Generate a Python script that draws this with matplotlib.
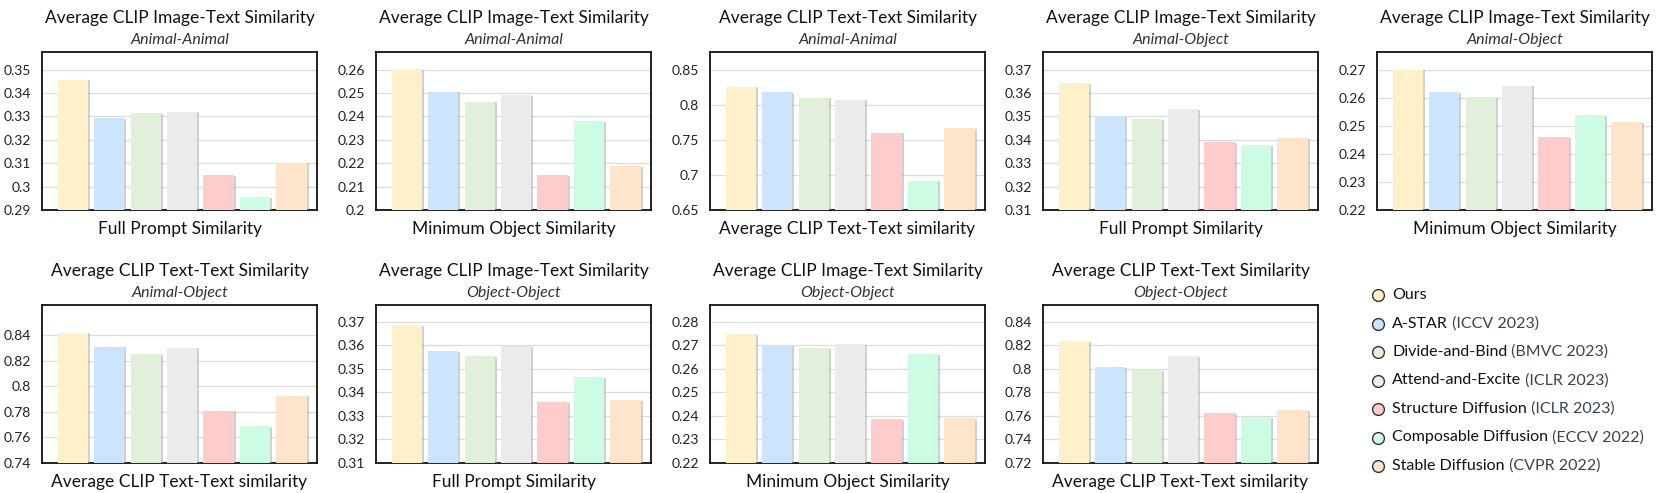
import matplotlib
matplotlib.use("Agg")
import matplotlib.pyplot as plt
import matplotlib.patheffects as pe

plt.rcParams['font.family'] = ['Lato', 'DejaVu Sans']

methods = ["Ours", "A-STAR", "Divide-and-Bind", "Attend-and-Excite",
           "Structure Diffusion", "Composable Diffusion", "Stable Diffusion"]
venues = ["", "(ICCV 2023)", "(BMVC 2023)", "(ICLR 2023)",
          "(ICLR 2023)", "(ECCV 2022)", "(CVPR 2022)"]
colors = ["#FFF0CC", "#CCE4FC", "#E2EFDA", "#EBEBEB", "#FFCCCC", "#CCFCE4", "#FFE4CC"]

titles = ["Average CLIP Image-Text Similarity", "Average CLIP Image-Text Similarity",
          "Average CLIP Text-Text Similarity", "Average CLIP Image-Text Similarity",
          "Average CLIP Image-Text Similarity", "Average CLIP Text-Text Similarity",
          "Average CLIP Image-Text Similarity", "Average CLIP Image-Text Similarity",
          "Average CLIP Text-Text Similarity"]
subtitles = ["Animal-Animal", "Animal-Animal", "Animal-Animal", "Animal-Object",
             "Animal-Object", "Animal-Object", "Object-Object", "Object-Object",
             "Object-Object"]
xlabels = ["Full Prompt Similarity", "Minimum Object Similarity",
           "Average CLIP Text-Text similarity", "Full Prompt Similarity",
           "Minimum Object Similarity", "Average CLIP Text-Text similarity",
           "Full Prompt Similarity", "Minimum Object Similarity",
           "Average CLIP Text-Text similarity"]

aa_img_full = [0.3457, 0.3293, 0.3313, 0.3320, 0.3049, 0.2954, 0.3103]
aa_img_min = [0.2603, 0.2506, 0.2463, 0.2490, 0.2149, 0.2380, 0.2189]
aa_txt = [0.8258, 0.8178, 0.8102, 0.8073, 0.7604, 0.6917, 0.7670]
ao_img_full = [0.3643, 0.3500, 0.3488, 0.3532, 0.3389, 0.3376, 0.3406]
ao_img_min = [0.2700, 0.2619, 0.2602, 0.2643, 0.2460, 0.2537, 0.2513]
ao_txt = [0.8418, 0.8309, 0.8252, 0.8301, 0.7808, 0.7688, 0.7927]
oo_img_full = [0.3686, 0.3576, 0.3553, 0.3597, 0.3358, 0.3464, 0.3366]
oo_img_min = [0.2748, 0.2699, 0.2687, 0.2704, 0.2385, 0.2662, 0.2391]
oo_txt = [0.8237, 0.8016, 0.7991, 0.8109, 0.7621, 0.7590, 0.7651]

series = [aa_img_full, aa_img_min, aa_txt, ao_img_full, ao_img_min,
          ao_txt, oo_img_full, oo_img_min, oo_txt]

# y tick ranges: (min, max tick, step)
yticks_spec = [(0.29, 0.35, 0.01), (0.20, 0.26, 0.01), (0.65, 0.85, 0.05),
               (0.31, 0.37, 0.01), (0.22, 0.27, 0.01), (0.74, 0.84, 0.02),
               (0.31, 0.37, 0.01), (0.22, 0.28, 0.01), (0.72, 0.84, 0.02)]
top_factor = [1.1262] * 5 + [475 / 385, 1.1176, 1.1176, 1.1176]

W, H = 1660, 493
fig = plt.figure(figsize=(W / 100, H / 100), dpi=100)

lefts = [42, 376, 710, 1043, 1377]
row_tops = [52, 305]
ax_w, ax_h = 275, 158

for i in range(9):
    r, c = divmod(i, 5)
    left = lefts[c]
    top = row_tops[r]
    ax = fig.add_axes([left / W, 1 - (top + ax_h) / H, ax_w / W, ax_h / H])
    vals = series[i]
    x = list(range(len(vals)))
    ymin, ymaxt, step = yticks_spec[i]
    n = int(round((ymaxt - ymin) / step))
    ticks = [round(ymin + k * step, 4) for k in range(n + 1)]
    ax.set_ylim(ymin, ymin + (ymaxt - ymin) * top_factor[i])
    ax.set_xlim(-0.845, 6.70)
    bars = ax.bar(x, [v - ymin for v in vals], bottom=ymin, width=0.83,
                  color=colors, edgecolor="none", zorder=3)
    for b in bars:
        b.set_path_effects([pe.SimplePatchShadow(offset=(1.5, -0.5),
                                                 shadow_rgbFace="#9a9a9a", alpha=0.45),
                            pe.Normal()])
    ax.set_yticks(ticks)
    ax.set_yticklabels([f"{t:g}" for t in ticks], fontsize=10, color="#222222")
    ax.set_xticks([])
    ax.tick_params(axis="y", length=0, pad=8)
    ax.grid(axis="y", color="#dcdcdc", linewidth=0.9, zorder=0)
    for s in ax.spines.values():
        s.set_color("#111111")
        s.set_linewidth(1.3)
    ax.text(0.5, 1.215, titles[i], transform=ax.transAxes, ha="center", va="center",
            fontsize=12.5, color="#111111")
    ax.text(0.5, 1.078, subtitles[i], transform=ax.transAxes, ha="center", va="center",
            fontsize=11.5, style="italic", color="#333333")
    ax.text(0.5, -0.12, xlabels[i], transform=ax.transAxes, ha="center", va="center",
            fontsize=12.5, color="#111111")

# legend
lax = fig.add_axes([0, 0, 1, 1])
lax.set_xlim(0, W)
lax.set_ylim(H, 0)
lax.axis("off")
ys = [295 + k * 28.5 for k in range(len(methods))]
for k in range(len(methods)):
    lax.plot([1378], [ys[k]], marker="o", markersize=8.5, markerfacecolor=colors[k],
             markeredgecolor="#333333", markeredgewidth=1.0, linestyle="none")
    t = lax.text(1392, ys[k], methods[k], ha="left", va="center", fontsize=11.5,
                 color="#111111")
    if venues[k]:
        lax.annotate(" " + venues[k], xy=(1, 0), xycoords=t, ha="left", va="bottom",
                     fontsize=11.5, color="#3a4250")

fig.savefig("out.png", dpi=100)
